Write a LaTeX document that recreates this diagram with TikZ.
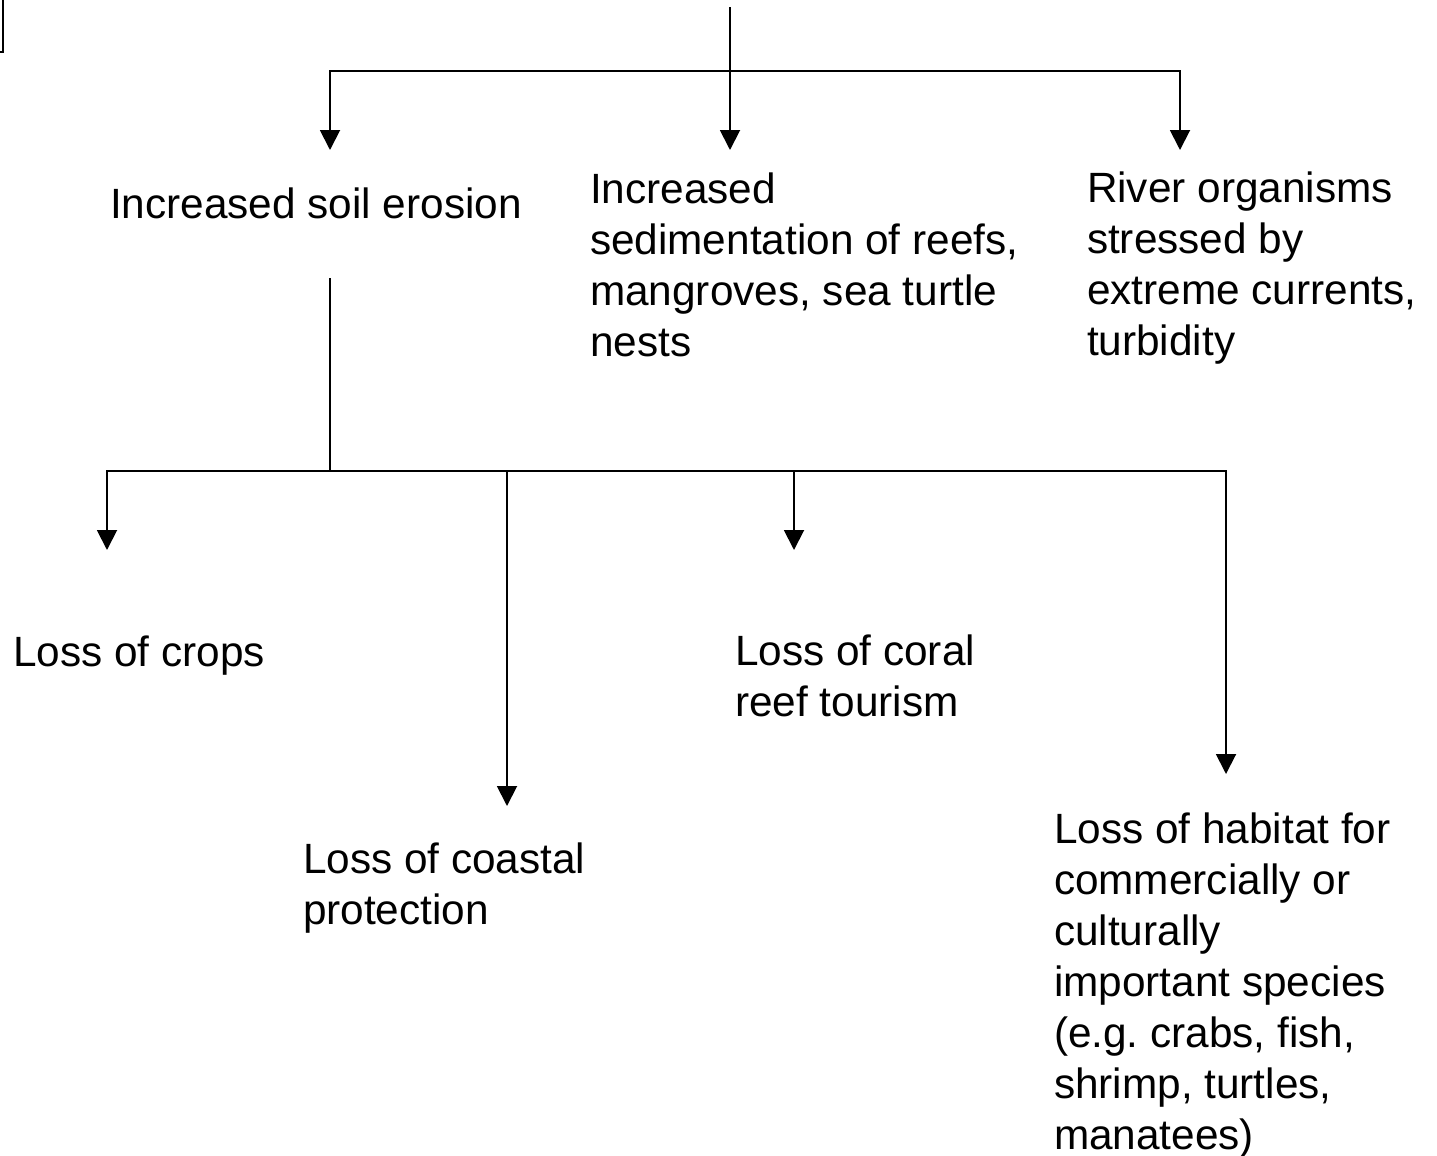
\documentclass[tikz,border=0pt]{standalone}
\usepackage{fontspec}
\setmainfont{Liberation Sans}
\usetikzlibrary{arrows.meta}
\frenchspacing

\begin{document}
\begin{tikzpicture}[x=0.02cm, y=-0.02cm]
    \tikzset{pfeil/.style={-{Triangle[width=0.4cm, length=0.4cm]}},
        linie/.style={line width=1.1pt},
        txt/.style={anchor=base west, inner sep=0pt, outer sep=0pt, align=left,
            font=\fontsize{24.1}{29}\selectfont}}
    \useasboundingbox (0,0) rectangle (1437,1156);

    %Rand oben links
    \draw[linie] (0,52) -- (3,52) -- (3,0);

    %Texte oben (base = letzte Zeile)
    \node[txt] (ero) at (110,218) {Increased soil erosion};
    \node[txt] (sed) at (590,356) {Increased\\sedimentation of reefs,\\mangroves, sea turtle\\nests};
    \node[txt] (riv) at (1087,355) {River organisms\\stressed by\\extreme currents,\\turbidity};

    %Texte unten
    \node[txt] (crops) at (13,666) {Loss of crops};
    \node[txt] (coast) at (303,924) {Loss of coastal\\protection};
    \node[txt] (coral) at (735,716) {Loss of coral\\reef tourism};
    \node[txt] (habit) at (1054,1149) {Loss of habitat for\\commercially or\\culturally\\important species\\(e.g. crabs, fish,\\shrimp, turtles,\\manatees)};

    %Verzweigung oben
    \coordinate (top) at (730,7);
    \coordinate (j1) at (730,71);
    \coordinate (t1) at (330,150);
    \coordinate (t2) at (730,150);
    \coordinate (t3) at (1180,150);
    \draw[linie, pfeil] (top) -- (t2);
    \draw[linie, pfeil] (j1) -| (t1);
    \draw[linie, pfeil] (j1) -| (t3);

    %Verzweigung unten
    \coordinate (s0) at (330,278);
    \coordinate (j2) at (330,471);
    \coordinate (u1) at (107,550);
    \coordinate (u2) at (507,806);
    \coordinate (u3) at (794,550);
    \coordinate (u4) at (1226,774);
    \draw[linie] (s0) -- (j2);
    \draw[linie, pfeil] (j2) -| (u1);
    \draw[linie, pfeil] (j2) -| (u2);
    \draw[linie, pfeil] (j2) -| (u3);
    \draw[linie, pfeil] (j2) -| (u4);

\end{tikzpicture}
\end{document}
